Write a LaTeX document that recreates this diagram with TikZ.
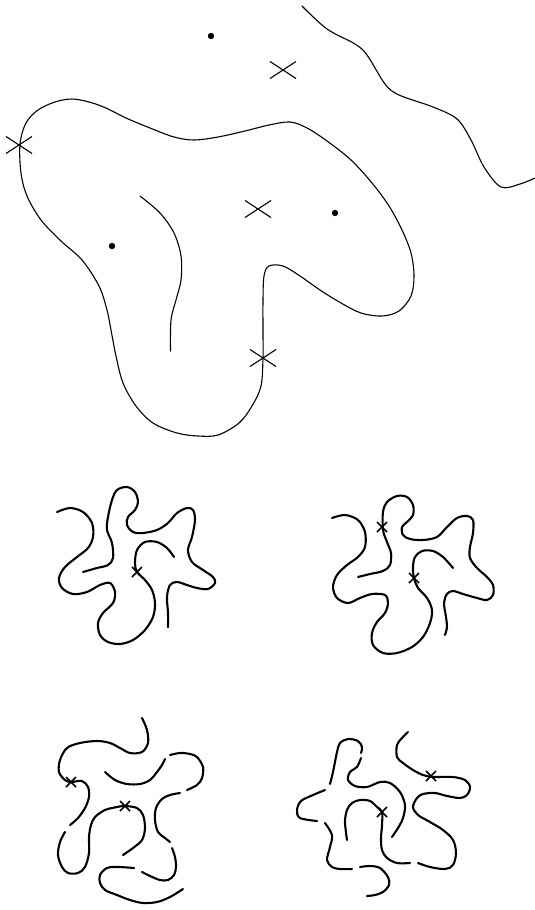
\documentclass[tikz,border=0pt]{standalone}
\begin{document}
\begin{tikzpicture}[x=1pt,y=-1pt,
  thin line/.style={line width=1.1pt,line cap=round,line join=round},
  thick line/.style={line width=2.1pt,line cap=round,line join=round},
  bigx/.pic={\draw[line width=1.1pt] (-13,-8.5)--(13,8.5) (-13,8.5)--(13,-8.5);},
  smallx/.pic={\draw[line width=1.6pt] (-5,-5)--(5,5) (-5,5)--(5,-5);},
  dotmark/.style={fill=black,draw=none}]
\useasboundingbox (0,0) rectangle (535,910);
% ---------- top figure ----------
\draw[thin line] plot[smooth,tension=0.55] coordinates {(302,6) (327,29) (355,44) (367,55) (385,84) (399,95) (433,107) (457,119) (471,140) (484,167) (501,187) (520,184) (535,178)};
\draw[thin line] plot[smooth cycle,tension=0.55] coordinates {(20,144) (26,123) (38,110) (55,102) (72,99) (89,102) (106,108) (126,118) (150,128) (174,137) (194,140) (218,137) (245,131) (269,125) (290,122) (307,128) (327,141) (351,160) (372,183) (389,206) (402,230) (411,253) (414,276) (411,296) (399,311) (382,316) (361,313) (341,303) (320,290) (300,276) (283,266) (269,266) (264,276) (263,300) (263,333) (263,358) (261,386) (252,406) (239,423) (218,435) (198,436) (177,433) (153,423) (136,406) (123,383) (116,356) (111,330) (107,310) (99,286) (82,260) (61,241) (41,220) (27,196) (21,173)};
\draw[thin line] plot[smooth,tension=0.55] coordinates {(140,196) (160,213) (174,233) (181,256) (181,280) (176,300) (171,320) (170.5,351)};
\fill[dotmark] (211,36) circle (3.2);
\fill[dotmark] (335,213) circle (3.2);
\fill[dotmark] (112,246) circle (3.2);
\pic at (283,70) {bigx};
\pic at (19,145) {bigx};
\pic at (258,209) {bigx};
\pic at (263,358) {bigx};
% ---------- squiggle 1 ----------
\draw[thick line] plot[smooth,tension=0.55] coordinates {(57,512) (70,508) (83,512) (92,523) (93,537) (88,548) (77,557) (65,567) (59,578) (62,588) (73,594) (87,592) (100,585) (110,583) (115,592) (113,603) (103,613) (98,623) (100,635) (108,642) (120,644) (133,640) (145,630) (153,617) (155,603) (152,590) (145,580) (137,572) (135,563) (137,550) (145,542) (157,542) (167,548) (174,557)};
\draw[thick line] plot[smooth,tension=0.55] coordinates {(83,572) (97,568) (108,565) (113,558) (112,543) (107,530) (108,517) (112,500) (117,490) (127,487) (135,492) (138,502) (135,510) (128,517) (127,525) (133,532) (143,533) (157,530) (168,523) (177,513) (187,508) (193,510) (195,520) (192,537) (188,550) (192,562) (203,570) (213,577) (215,583) (208,589) (197,588) (187,585) (177,582) (170,585) (167,597) (168,613) (168,627)};
\pic at (137,572) {smallx};
% ---------- squiggle 2 ----------
\draw[thick line] plot[smooth,tension=0.55] coordinates {(332,518) (345,515) (358,520) (365,532) (365,547) (358,557) (347,565) (337,575) (333,587) (337,598) (348,603) (360,598) (372,594) (385,595) (388,603) (385,613) (377,622) (372,633) (373,645) (383,653) (397,653) (412,647) (423,637) (430,623) (432,610) (427,598) (418,588) (414,578) (413,567) (415,557) (422,551) (433,551) (443,557) (453,568)};
\draw[thick line] plot[smooth,tension=0.55] coordinates {(358,577) (370,574) (383,571) (390,565) (391,553) (387,542) (383,530) (383,512) (387,502) (397,496) (407,497) (413,505) (413,515) (407,522) (402,527) (403,535) (410,539) (423,540) (437,537) (447,527) (457,518) (467,516) (473,520) (473,533) (470,547) (470,558) (477,568) (487,577) (493,585) (493,595) (487,600) (477,598) (463,594) (453,591) (447,594) (444,603) (446,617) (447,627) (445,635)};
\pic at (382,527) {smallx};
\pic at (414,578) {smallx};
% ---------- squiggle 3 ----------
\draw[thick line] plot[smooth,tension=0.55] coordinates {(142,718) (147,730) (148,743) (142,752) (130,753) (120,748) (110,743) (97,741) (80,743) (67,748) (60,760) (59,772) (65,780) (71,782) (82,781) (88,787) (89,797) (85,808) (78,818) (70,825)};
\draw[thick line] plot[smooth,tension=0.55] coordinates {(65,832) (60,842) (58,855) (62,867) (68,873) (78,873) (85,867) (89,853) (89,837) (91,825) (95,817) (105,810) (117,807) (125,806) (137,808) (143,815) (145,828) (142,840) (133,848) (123,855)};
\draw[thick line] plot[smooth,tension=0.55] coordinates {(105,772) (115,780) (127,784) (140,784) (150,780) (157,772) (162,765) (165,759)};
\draw[thick line] plot[smooth,tension=0.55] coordinates {(170,755) (180,753) (190,754) (197,757) (203,767) (202,778) (197,785) (187,790)};
\draw[thick line] plot[smooth,tension=0.55] coordinates {(180,793) (170,795) (162,799) (156,808) (155,820) (158,832) (165,838) (170,842)};
\draw[thick line] plot[smooth,tension=0.55] coordinates {(172,848) (175,857) (176,867) (174,875) (168,880) (160,880) (150,876) (142,872)};
\draw[thick line] plot[smooth,tension=0.55] coordinates {(134,868) (118,867) (107,868) (100,875) (100,883) (105,890) (117,895) (130,900) (143,903) (157,902) (170,897) (183,889)};
\pic at (71,782) {smallx};
\pic at (125,806) {smallx};
% ---------- squiggle 4 ----------
\draw[thick line] plot[smooth,tension=0.55] coordinates {(325,790) (313,795) (301,801) (297,810) (300,818) (317,821)};
\draw[thick line] plot[smooth,tension=0.55] coordinates {(325,823) (332,835) (330,847) (327,860) (332,867) (340,869) (352,869)};
\draw[thick line] plot[smooth,tension=0.55] coordinates {(360,867) (370,866) (380,868) (388,877) (389,885) (383,892) (375,895) (367,896)};
\draw[thick line] plot[smooth,tension=0.55] coordinates {(330,784) (333,772) (337,752) (340,743) (348,739) (358,741) (362,747) (361,753)};
\draw[thick line] plot[smooth,tension=0.55] coordinates {(361,758) (357,767) (350,772) (348,780) (355,786) (367,787) (380,782) (390,783) (400,792) (405,805) (403,818) (398,828) (392,837)};
\draw[thick line] plot[smooth,tension=0.55] coordinates {(347,840) (345,822) (347,810) (352,803) (360,800) (370,801) (377,807) (382,812) (382,825) (381,838) (382,850) (387,858) (397,863) (410,863)};
\draw[thick line] plot[smooth,tension=0.55] coordinates {(418,863) (430,867) (445,869) (453,865) (456,853) (453,840) (443,830) (430,822) (418,815) (413,807) (417,798) (423,794) (435,793) (447,796) (460,798) (467,795) (470,787) (465,780) (453,777) (437,777) (432,777) (423,775) (413,770) (403,763) (397,757) (397,745) (402,738) (408,732)};
\pic at (382,812) {smallx};
\pic at (431,776) {smallx};
\end{tikzpicture}
\end{document}
